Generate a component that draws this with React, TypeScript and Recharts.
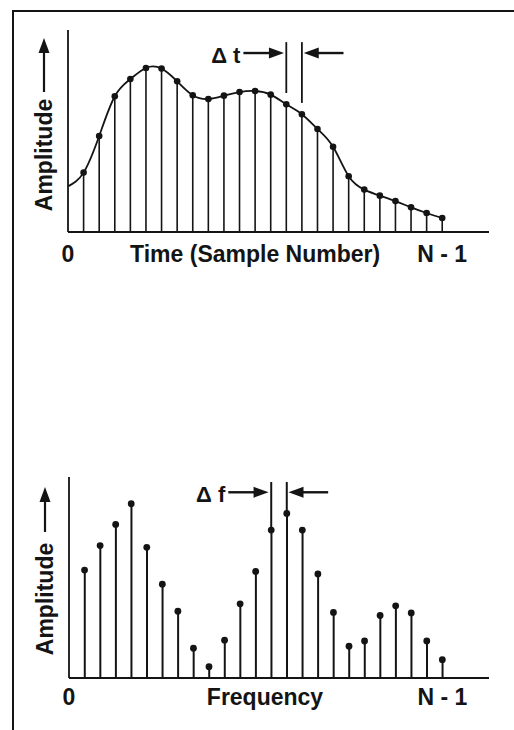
import { ComposedChart, Line, Bar, Scatter, XAxis, YAxis, ReferenceLine } from "recharts";

const INK = "#141414";
const FONT = "'Liberation Sans', Arial, Helvetica, sans-serif";

// time-domain samples 1..N-1 (amplitude, 0-100 scale), curve starts at sample 0
const timeSamples = [
  29.4, 47.5, 67.2, 75.7, 81.2, 80.9, 74.6, 67.7, 65.8, 67.5, 69.3, 69.8,
  68.0, 63.2, 58.3, 51.0, 42.2, 27.6, 21.0, 18.0, 15.3, 12.2, 9.4, 6.9,
];
const timeCurveStart = 22.6;
const timeTicks = [0, 12, 24];
const timeTickLabels = ["0", "Time (Sample Number)", "N - 1"];

// frequency-domain lines
const freqSamples = [
  53.7, 65.9, 76.4, 86.7, 65.0, 46.7, 33.2, 14.8, 5.6, 18.8, 36.9, 53.0,
  73.6, 81.9, 73.6, 51.8, 32.6, 15.8, 18.4, 31.1, 35.9, 32.4, 18.4, 9.1,
];
const freqTicks = [0, 12.6, 24];
const freqTickLabels = ["0", "Frequency", "N - 1"];

const timeData = [
  { n: 0, curve: timeCurveStart, stem: null as number | null },
  ...timeSamples.map((v, i) => ({ n: i + 1, curve: v, stem: v })),
];
const freqData = freqSamples.map((v, i) => ({ n: i + 1, amp: v }));

const makeTick = (labels: string[], dy: number) => (p: any) => (
  <text
    x={p.x}
    y={p.y}
    dy={dy}
    textAnchor="middle"
    fontSize={23}
    fontWeight="bold"
    fontFamily={FONT}
    fill={INK}
  >
    {labels[p.index]}
  </text>
);

function AmpLabel({ viewBox, textMid, tip, tail }: any) {
  const x = viewBox.x + (viewBox.width || 0);
  const y = viewBox.y;
  const bx = x - 16;
  const ax = x - 24;
  const cy = y + textMid;
  return (
    <g>
      <text
        x={bx}
        y={cy}
        transform={`rotate(-90 ${bx} ${cy})`}
        textAnchor="middle"
        fontSize={23}
        fontWeight="bold"
        fontFamily={FONT}
        fill={INK}
      >
        Amplitude
      </text>
      <line x1={ax} y1={y + tail} x2={ax} y2={y + tip + 12} stroke={INK} strokeWidth={2.2} />
      <polygon
        points={`${ax},${y + tip} ${ax - 5.5},${y + tip + 15} ${ax + 5.5},${y + tip + 15}`}
        fill={INK}
      />
    </g>
  );
}

// arrow drawn along a reference segment, with optional text before its tail
function Arrow(p: any) {
  const { x1, y1, x2, y2, text } = p;
  const len = Math.hypot(x2 - x1, y2 - y1) || 1;
  const ux = (x2 - x1) / len;
  const uy = (y2 - y1) / len;
  const head = 15;
  const half = 5.5;
  const bx = x2 - ux * head;
  const by = y2 - uy * head;
  return (
    <g>
      <line x1={x1} y1={y1} x2={bx + ux * 2} y2={by + uy * 2} stroke={INK} strokeWidth={2.4} />
      <polygon
        points={`${x2},${y2} ${bx - uy * half},${by + ux * half} ${bx + uy * half},${by - ux * half}`}
        fill={INK}
      />
      {text ? (
        <text
          x={x1 - 3}
          y={y1 + 10}
          textAnchor="end"
          fontSize={22}
          fontWeight="bold"
          fontFamily={FONT}
          fill={INK}
        >
          {text}
        </text>
      ) : null}
    </g>
  );
}

const timeDot = (p: any) =>
  p.index === 0 ? (
    <g key={`d-${p.index}`} />
  ) : (
    <circle key={`d-${p.index}`} cx={p.cx} cy={p.cy} r={3.3} fill={INK} />
  );

export default function App() {
  return (
    <div
      style={{
        position: "absolute",
        left: 0,
        top: 0,
        width: 514,
        height: 730,
        background: "#fff",
        overflow: "hidden",
      }}
    >
      <div
        style={{
          position: "absolute",
          left: 12,
          top: 10,
          width: 505,
          height: 730,
          borderTop: `2.5px solid ${INK}`,
          borderLeft: `2.5px solid ${INK}`,
        }}
      />

      <div style={{ position: "absolute", left: 0, top: 0 }}>
        <ComposedChart
          width={514}
          height={280}
          data={timeData}
          margin={{ top: 30, right: 25, bottom: 18, left: 67 }}
        >
          <XAxis
            dataKey="n"
            type="number"
            domain={[0, 27]}
            allowDataOverflow
            ticks={timeTicks}
            tick={makeTick(timeTickLabels, 30)}
            tickLine={false}
            tickSize={0}
            tickMargin={0}
            height={30}
            axisLine={{ stroke: INK, strokeWidth: 2 }}
          />
          <YAxis
            type="number"
            domain={[0, 100]}
            allowDataOverflow
            width={1}
            tick={false}
            tickLine={false}
            axisLine={{ stroke: INK, strokeWidth: 1.8 }}
            label={{
              content: (lp: any) => <AmpLabel viewBox={lp.viewBox} textMid={125} tip={8} tail={62} />,
            }}
          />
          <Bar dataKey="stem" barSize={1.6} fill={INK} isAnimationActive={false} />
          <Line
            type="natural"
            dataKey="curve"
            stroke={INK}
            strokeWidth={1.8}
            dot={timeDot}
            activeDot={false}
            isAnimationActive={false}
          />
          <ReferenceLine segment={[{ x: 14, y: 94 }, { x: 14, y: 68.8 }]} stroke={INK} strokeWidth={1.8} />
          <ReferenceLine segment={[{ x: 15, y: 94 }, { x: 15, y: 63.9 }]} stroke={INK} strokeWidth={1.8} />
          <ReferenceLine
            segment={[{ x: 11.25, y: 88.6 }, { x: 13.85, y: 88.6 }]}
            shape={(p: any) => <Arrow {...p} text="Δ t" />}
          />
          <ReferenceLine
            segment={[{ x: 17.67, y: 88.6 }, { x: 15.12, y: 88.6 }]}
            shape={(p: any) => <Arrow {...p} />}
          />
        </ComposedChart>
      </div>

      <div style={{ position: "absolute", left: 0, top: 440 }}>
        <ComposedChart
          width={514}
          height={290}
          data={freqData}
          margin={{ top: 37, right: 25, bottom: 22, left: 68 }}
        >
          <XAxis
            dataKey="n"
            type="number"
            domain={[0, 27]}
            allowDataOverflow
            ticks={freqTicks}
            tick={makeTick(freqTickLabels, 27)}
            tickLine={false}
            tickSize={0}
            tickMargin={0}
            height={30}
            axisLine={{ stroke: INK, strokeWidth: 2 }}
          />
          <YAxis
            type="number"
            domain={[0, 100]}
            allowDataOverflow
            width={1}
            tick={false}
            tickLine={false}
            axisLine={{ stroke: INK, strokeWidth: 1.8 }}
            label={{
              content: (lp: any) => <AmpLabel viewBox={lp.viewBox} textMid={122} tip={10} tail={55} />,
            }}
          />
          <Bar dataKey="amp" barSize={2} fill={INK} isAnimationActive={false} />
          <Scatter
            dataKey="amp"
            fill={INK}
            isAnimationActive={false}
            shape={(p: any) => <circle cx={p.cx} cy={p.cy} r={3.4} fill={INK} />}
          />
          <ReferenceLine segment={[{ x: 13, y: 97.5 }, { x: 13, y: 73.6 }]} stroke={INK} strokeWidth={2} />
          <ReferenceLine segment={[{ x: 14, y: 97.5 }, { x: 14, y: 81.9 }]} stroke={INK} strokeWidth={2} />
          <ReferenceLine
            segment={[{ x: 10.24, y: 92.4 }, { x: 12.83, y: 92.4 }]}
            shape={(p: any) => <Arrow {...p} text="Δ f" />}
          />
          <ReferenceLine
            segment={[{ x: 16.66, y: 92.4 }, { x: 14.11, y: 92.4 }]}
            shape={(p: any) => <Arrow {...p} />}
          />
        </ComposedChart>
      </div>
    </div>
  );
}
